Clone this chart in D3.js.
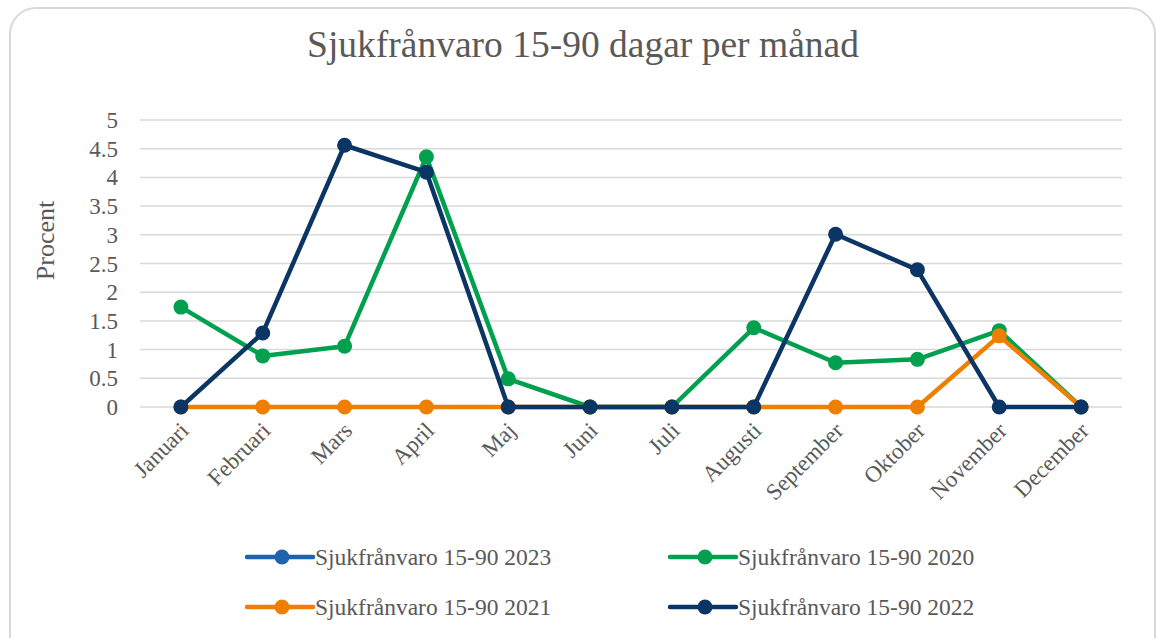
<!DOCTYPE html>
<html>
<head>
<meta charset="utf-8">
<script src="https://cdn.jsdelivr.net/npm/d3@7/dist/d3.min.js"></script>
<style>
  body { margin: 0; background: #fff; }
  text { font-family: "Liberation Serif", "Times New Roman", serif; fill: #595959; }
</style>
</head>
<body>
<script>
const months = ["Januari", "Februari", "Mars", "April", "Maj", "Juni", "Juli",
    "Augusti", "September", "Oktober", "November", "December"];
const yTicks = [0, 0.5, 1, 1.5, 2, 2.5, 3, 3.5, 4, 4.5, 5];

const values2023 = [null, null, null, null, null, null, null, null, null, null, null, null];
const values2020 = [1.74, 0.89, 1.06, 4.36, 0.49, 0, 0, 1.38, 0.77, 0.83, 1.33, 0];
const values2021 = [0, 0, 0, 0, 0, 0, 0, 0, 0, 0, 1.24, 0];
const values2022 = [0, 1.29, 4.56, 4.09, 0, 0, 0, 0, 3.01, 2.39, 0, 0];

const seriesNames = ["Sjukfrånvaro 15-90 2023", "Sjukfrånvaro 15-90 2020",
    "Sjukfrånvaro 15-90 2021", "Sjukfrånvaro 15-90 2022"];
const seriesColors = ["#1f62ad", "#00a04f", "#ef7f00", "#0b3564"];

const series = [values2023, values2020, values2021, values2022].map((v, i) => ({
    name: seriesNames[i], color: seriesColors[i], values: v
}));

const chart = {
    width: 1156,
    height: 638,
    margin: { top: 120, left: 140, right: 34, bottom: 231 }
};

const svg = d3.select("body").append("svg")
    .attr("width", chart.width)
    .attr("height", chart.height);

// frame
svg.append("rect")
    .attr("x", 10).attr("y", 8)
    .attr("width", 1145).attr("height", 660)
    .attr("rx", 26).attr("ry", 26)
    .attr("fill", "none")
    .attr("stroke", "#d9d9d9")
    .attr("stroke-width", 2);

svg.append("text")
    .attr("x", 583).attr("y", 57)
    .attr("text-anchor", "middle")
    .style("font-size", "37.5px")
    .text("Sjukfrånvaro 15-90 dagar per månad");

const x = d3.scaleBand()
    .domain(months)
    .range([chart.margin.left, chart.width - chart.margin.right]);

const y = d3.scaleLinear()
    .domain([0, 5])
    .range([chart.height - chart.margin.bottom, chart.margin.top]);

const xc = d => x(d) + x.bandwidth() / 2;

// gridlines
svg.append("g")
    .selectAll("line")
    .data(yTicks)
    .enter().append("line")
    .attr("x1", chart.margin.left)
    .attr("x2", chart.width - chart.margin.right)
    .attr("y1", d => y(d))
    .attr("y2", d => y(d))
    .attr("stroke", "#d9d9d9")
    .attr("stroke-width", 1.5);

// y tick labels
svg.append("g")
    .selectAll("text")
    .data(yTicks)
    .enter().append("text")
    .attr("x", 118)
    .attr("y", d => y(d) + 8)
    .attr("text-anchor", "end")
    .style("font-size", "23px")
    .text(d => d);

svg.append("text")
    .attr("transform", "translate(54," + y(2.9) + ") rotate(-90)")
    .attr("text-anchor", "middle")
    .style("font-size", "26px")
    .text("Procent");

// x labels
svg.append("g")
    .selectAll("text")
    .data(months)
    .enter().append("text")
    .attr("transform", d => "translate(" + (xc(d) + 9) + "," + (y(0) + 25) + ") rotate(-45)")
    .attr("text-anchor", "end")
    .style("font-size", "23px")
    .text(d => d);

const line = d3.line()
    .defined(d => d != null)
    .x((d, i) => xc(months[i]))
    .y(d => y(d));

const lines = svg.append("g")
    .selectAll("g")
    .data(series)
    .enter().append("g");

lines.append("path")
    .attr("d", d => line(d.values))
    .attr("fill", "none")
    .attr("stroke", d => d.color)
    .attr("stroke-width", 4.5)
    .attr("stroke-linejoin", "round");

lines.each(function(s) {
    d3.select(this).selectAll("circle")
        .data(s.values.map((v, i) => ({ v: v, m: months[i] })).filter(p => p.v != null))
        .enter().append("circle")
        .attr("cx", p => xc(p.m))
        .attr("cy", p => y(p.v))
        .attr("r", 7.5)
        .attr("fill", s.color);
});

// legend
const legendPos = [[247, 557], [670, 557], [247, 607], [670, 607]];
const legend = svg.append("g")
    .selectAll("g")
    .data(series)
    .enter().append("g")
    .attr("transform", (d, i) => "translate(" + legendPos[i][0] + "," + legendPos[i][1] + ")");

legend.append("line")
    .attr("x1", 0).attr("x2", 66)
    .attr("y1", 0).attr("y2", 0)
    .attr("stroke", d => d.color)
    .attr("stroke-width", 4.5)
    .attr("stroke-linecap", "round");
legend.append("circle")
    .attr("cx", 35).attr("cy", 0).attr("r", 7.5)
    .attr("fill", d => d.color);
legend.append("text")
    .attr("x", 68).attr("y", 8)
    .style("font-size", "23.5px")
    .text(d => d.name);
</script>
</body>
</html>
